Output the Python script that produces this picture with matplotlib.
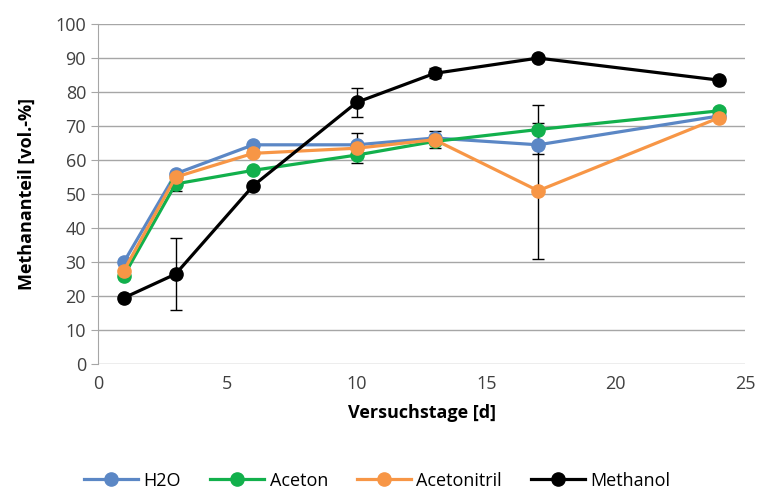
import matplotlib
matplotlib.use("Agg")
import matplotlib.pyplot as plt

plt.rcParams["font.family"] = ["Open Sans", "DejaVu Sans"]

DAYS = [1, 3, 6, 10, 13, 17, 24]

H2O = [30.0, 56.0, 64.5, 64.5, 66.5, 64.5, 73.0]
ACETON = [26.0, 53.0, 57.0, 61.5, 65.5, 69.0, 74.5]
ACETONITRIL = [27.5, 55.0, 62.0, 63.5, 66.0, 51.0, 72.5]
METHANOL = [19.5, 26.5, 52.5, 77.0, 85.5, 90.0, 83.5]

H2O_ERR = [0, 0, 0, 0, 0, 0, 0]
ACETON_ERR = [0, 2.0, 0, 0, 0, 7.3, 0.8]
ACETONITRIL_ERR = [0, 0, 0, 4.4, 2.5, 20.0, 0.8]
METHANOL_ERR = [0, 10.5, 0, 4.2, 1.5, 0, 0]

SERIES = [
    ("H2O", H2O, H2O_ERR, "#5b87c5"),
    ("Aceton", ACETON, ACETON_ERR, "#12b04c"),
    ("Acetonitril", ACETONITRIL, ACETONITRIL_ERR, "#f79646"),
    ("Methanol", METHANOL, METHANOL_ERR, "#000000"),
]

fig = plt.figure(figsize=(7.59, 5.01), dpi=100)
ax = fig.add_axes([0.129, 0.273, 0.853, 0.679])

handles = []
for name, vals, err, col in SERIES:
    ax.errorbar(DAYS, vals, yerr=err, fmt="none", ecolor="black",
                elinewidth=1, capsize=4, capthick=1, zorder=3)
    (h,) = ax.plot(DAYS, vals, color=col, linewidth=2.3, marker="o",
                   markersize=9.5, label=name, zorder=4)
    handles.append(h)

ax.set_xlim(0, 25)
ax.set_ylim(0, 100)
ax.set_xticks(range(0, 26, 5))
ax.set_yticks(range(0, 101, 10))
ax.grid(True, axis="y", color="#a6a6a6", linewidth=1)
ax.set_axisbelow(True)
for side in ["top", "right", "bottom"]:
    ax.spines[side].set_visible(False)
ax.spines["left"].set_color("#a6a6a6")
ax.tick_params(axis="y", length=5, color="#a6a6a6", labelsize=13, labelcolor="#404040")
ax.tick_params(axis="x", length=0, labelsize=13, labelcolor="#404040", pad=8)

ax.set_xlabel("Versuchstage [d]", fontsize=13, fontweight="bold", labelpad=8)
ax.set_ylabel("Methananteil [vol.-%]", fontsize=13, fontweight="bold", labelpad=14)

fig.legend(handles=handles, loc="lower center", bbox_to_anchor=(0.497, -0.01),
           ncol=4, frameon=False, fontsize=13, handlelength=3.0,
           columnspacing=1.6, handletextpad=0.3)

fig.savefig("out.png", dpi=100)
